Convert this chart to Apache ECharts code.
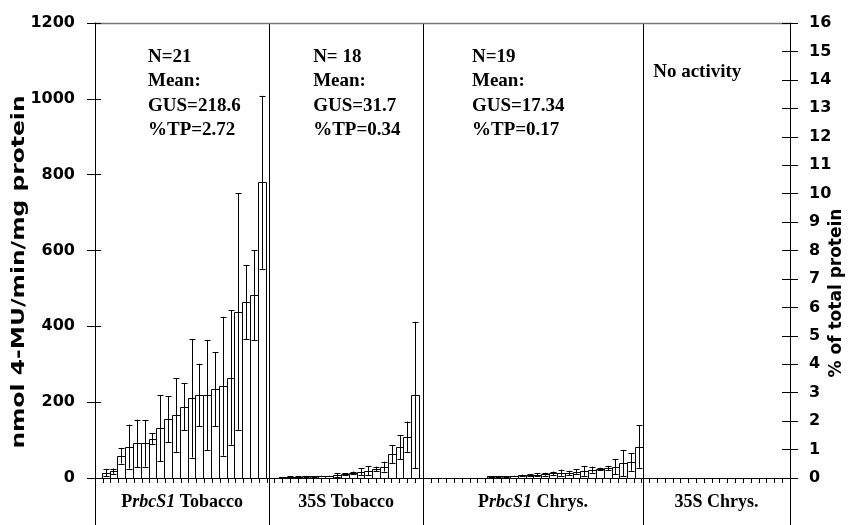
<!DOCTYPE html>
<html>
<head>
<meta charset="utf-8">
<script src="https://cdn.jsdelivr.net/npm/echarts@6/dist/echarts.min.js"></script>
<style>
  html, body { margin: 0; padding: 0; background: #fff; }
  #chart { width: 849px; height: 525px; }
</style>
</head>
<body>
<div id="chart"></div>
<script>
// Group names for the label row; {i|...} is set in italics
const groupLabels = ['P{i|rbcS1} Tobacco', '35S Tobacco', 'P{i|rbcS1} Chrys.', '35S Chrys.'];

// Summary text printed inside each group
const groupNotes = [
  ['N=21', 'Mean:', 'GUS=218.6', '%TP=2.72'],
  ['N= 18', 'Mean:', 'GUS=31.7', '%TP=0.34'],
  ['N=19', 'Mean:', 'GUS=17.34', '%TP=0.17'],
  ['No activity']
];

// GUS activity of individual lines (nmol 4-MU/min/mg protein) and their SD
const rbcsTobacco   = [14, 18, 58, 83, 91, 91, 104, 131, 155, 166, 188, 210, 219, 219, 234, 242, 265, 439, 464, 482, 780];
const rbcsTobaccoSd = [10, 7, 20, 58, 63, 61, 14, 87, 60, 97, 62, 156, 82, 145, 98, 183, 177, 312, 98, 119, 228];

const s35Tobacco    = [2, 3, 3, 4, 4, 5, 5, 8, 10, 14, 17, 19, 24, 30, 63, 81, 109, 219];
const s35TobaccoSd  = [0.5, 1, 1, 1, 1, 1, 1, 5, 3, 3, 9, 12, 6, 13, 24, 32, 40, 193];

const rbcsChrys     = [4, 4, 4, 5, 7, 7, 8, 10, 12, 14, 13, 17, 19, 22, 24, 26, 30, 39, 42, 83];
const rbcsChrysSd   = [1, 1, 1, 1, 2, 3, 4, 4, 5, 8, 6, 6, 13, 8, 3, 6, 20, 35, 23, 56];

const s35Chrys      = [];
const s35ChrysSd    = [];

// Axis scales
const activityTicks = [0, 200, 400, 600, 800, 1000, 1200];
const percentTicks  = [0, 1, 2, 3, 4, 5, 6, 7, 8, 9, 10, 11, 12, 13, 14, 15, 16];

// Layout along the x axis, in bar slots
const SLOTS = 89;
const panelEdges = [0, 22.3, 42, 70.2, 89];
const firstSlot = [0.86, 23.5, 50.15, 71];
const noteOffset = [53, 44, 49, 10];   // px from the panel's left edge

const groups = [
  [rbcsTobacco, rbcsTobaccoSd],
  [s35Tobacco, s35TobaccoSd],
  [rbcsChrys, rbcsChrysSd],
  [s35Chrys, s35ChrysSd]
];

const barData = [];
groups.forEach(([mean, sd], g) => {
  mean.forEach((m, i) => barData.push([firstSlot[g] + i + 0.5, m, sd[i]]));
});

const SANS = '"DejaVu Sans", "Liberation Sans", Arial, sans-serif';
const SERIF = '"Liberation Serif", "Times New Roman", serif';

function renderBar(params, api) {
  const x = api.value(0), v = api.value(1), e = api.value(2);
  const tl = api.coord([x - 0.5, v]);
  const br = api.coord([x + 0.5, 0]);
  const hi = api.coord([x, v + e]);
  const lo = api.coord([x, Math.max(v - e, 0)]);
  const cap = 3;
  const cx = Math.round(hi[0]) + 0.5;
  const lineStyle = { stroke: '#000', lineWidth: 1 };
  return {
    type: 'group',
    children: [
      { type: 'rect',
        shape: { x: Math.round(tl[0]) + 0.5, y: Math.round(tl[1]) + 0.5,
                 width: Math.round(br[0]) - Math.round(tl[0]), height: Math.round(br[1]) - Math.round(tl[1]) },
        style: { fill: '#fff', stroke: '#000', lineWidth: 1 } },
      { type: 'line', shape: { x1: cx, y1: hi[1], x2: cx, y2: lo[1] }, style: lineStyle },
      { type: 'line', shape: { x1: cx - cap, y1: Math.round(hi[1]) + 0.5, x2: cx + cap, y2: Math.round(hi[1]) + 0.5 }, style: lineStyle },
      { type: 'line', shape: { x1: cx - cap, y1: Math.round(lo[1]) + 0.5, x2: cx + cap, y2: Math.round(lo[1]) + 0.5 }, style: lineStyle }
    ]
  };
}

const chart = echarts.init(document.getElementById('chart'), null, { renderer: 'canvas' });

const tickLabel = { show: true, color: '#000', fontFamily: SANS, fontWeight: 'bold', fontSize: 16, margin: 20,
  formatter: v => String(v) };

chart.setOption({
  animation: false,
  backgroundColor: '#fff',
  grid: { left: 95, right: 59, top: 23, bottom: 47, containLabel: false },
  xAxis: {
    type: 'value', min: 0, max: SLOTS, interval: 1,
    axisLine: { show: true, lineStyle: { color: '#000', width: 1 } },
    axisTick: { show: true, length: 5, lineStyle: { color: '#000', width: 1 } },
    axisLabel: { show: false },
    splitLine: { show: false }
  },
  yAxis: [
    { type: 'value', position: 'left', min: activityTicks[0], max: activityTicks[activityTicks.length - 1], interval: 200,
      axisLine: { show: true, lineStyle: { color: '#000', width: 1 } },
      axisTick: { show: true, length: 8, lineStyle: { color: '#000' } },
      axisLabel: tickLabel, splitLine: { show: false } },
    { type: 'value', position: 'right', min: percentTicks[0], max: percentTicks[percentTicks.length - 1], interval: 1,
      axisLine: { show: true, lineStyle: { color: '#000', width: 1 } },
      axisTick: { show: true, length: 8, lineStyle: { color: '#000' } },
      axisLabel: Object.assign({}, tickLabel, { margin: 19 }), splitLine: { show: false } },
    { type: 'value', position: 'left', min: 0, max: 1200, interval: 200,
      axisLine: { show: false }, axisTick: { show: true, inside: true, length: 6, lineStyle: { color: '#000' } },
      axisLabel: { show: false }, splitLine: { show: false } },
    { type: 'value', position: 'right', min: 0, max: 16, interval: 1,
      axisLine: { show: false }, axisTick: { show: true, inside: true, length: 8, lineStyle: { color: '#000' } },
      axisLabel: { show: false }, splitLine: { show: false } }
  ],
  series: [{
    type: 'custom',
    xAxisIndex: 0, yAxisIndex: 0,
    renderItem: renderBar,
    encode: { x: 0, y: 1 },
    data: barData,
    clip: false
  }]
});

// Frame lines, panel dividers and text placed from the axis scales
const px = v => chart.convertToPixel({ xAxisIndex: 0 }, v);
const py = v => chart.convertToPixel({ yAxisIndex: 0 }, v);
const H = 525;
const yTop = py(1200), yBase = py(0);
const gfx = [];

const vline = (x, y1, y2, color) => gfx.push({
  type: 'line', silent: true,
  shape: { x1: Math.round(x) + 0.5, y1: y1, x2: Math.round(x) + 0.5, y2: y2 },
  style: { stroke: color || '#000', lineWidth: 1 }
});

// outer axes run down through the label row
vline(px(0), yBase, H);
vline(px(SLOTS), yBase, H);
// dividers between groups
panelEdges.slice(1, -1).forEach(s => vline(px(s), yTop, H));
// top frame
gfx.push({ type: 'line', silent: true,
  shape: { x1: px(0), y1: Math.round(yTop) + 0.5, x2: px(SLOTS), y2: Math.round(yTop) + 0.5 },
  style: { stroke: '#777', lineWidth: 1.5 } });

// group names
groupLabels.forEach((t, g) => {
  gfx.push({ type: 'text', silent: true,
    x: (px(panelEdges[g]) + px(panelEdges[g + 1])) / 2, y: 502,
    style: { text: t, align: 'center', verticalAlign: 'middle', fill: '#000',
      font: 'bold 18px ' + SERIF,
      rich: { i: { fontStyle: 'italic', fontWeight: 'bold', fontSize: 18, fontFamily: SERIF, fill: '#000' } } } });
});

// group summaries
groupNotes.forEach((lines, g) => {
  const x0 = px(panelEdges[g]) + noteOffset[g];
  const y0 = lines.length === 1 ? 72 : 57;
  lines.forEach((t, k) => gfx.push({ type: 'text', silent: true,
    x: x0, y: y0 + k * 24.4,
    style: { text: t, align: 'left', verticalAlign: 'middle', fill: '#000', font: 'bold 19px ' + SERIF } }));
});

// axis titles
gfx.push({ type: 'text', silent: true, x: 19, y: 272, rotation: Math.PI / 2, scaleX: 1.3,
  style: { text: 'nmol 4-MU/min/mg protein', align: 'center', verticalAlign: 'middle', fill: '#000', font: 'bold 18px ' + SANS } });
gfx.push({ type: 'text', silent: true, x: 837, y: 293, rotation: Math.PI / 2,
  style: { text: '% of total protein', align: 'center', verticalAlign: 'middle', fill: '#000', font: 'bold 17px ' + SANS } });

chart.setOption({ graphic: { elements: gfx } });
</script>
</body>
</html>
